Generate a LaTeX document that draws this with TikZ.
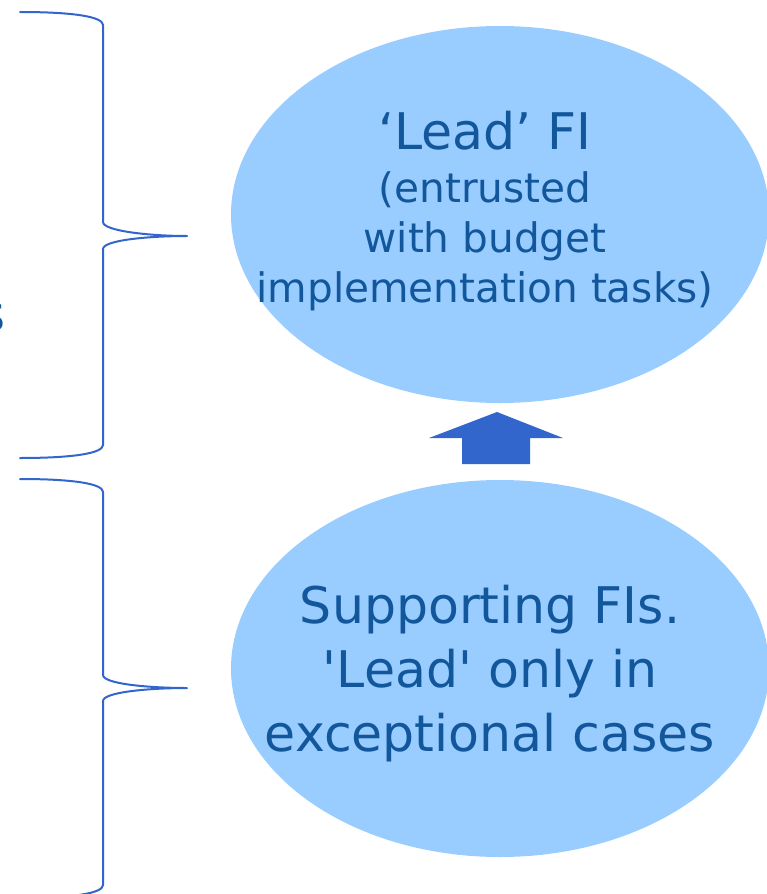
\documentclass[tikz,border=0pt]{standalone}
\usepackage{fontspec}
\setmainfont{DejaVu Sans}[Ligatures=TeXOff]
\usetikzlibrary{shapes.geometric}
\definecolor{bubble}{HTML}{99CCFF}
\definecolor{inktext}{HTML}{12579B}
\definecolor{inkline}{HTML}{3366CC}
\tikzset{
  bubble/.style={ellipse, fill=bubble, draw=none, inner sep=0pt,
    minimum width=538pt, minimum height=377pt},
  bubbletext/.style={text=inktext, align=center, inner sep=0pt},
  bracket/.style={draw=inkline, line width=2pt, line cap=round, line join=round},
  blockarrow/.style={fill=inkline, draw=none}
}
\begin{document}
\begin{tikzpicture}[x=1pt, y=-1pt]
\useasboundingbox (0,0) rectangle (767,894);
\clip (0,0) rectangle (767,894);

% the two ellipses
\node[bubble] (lead) at (500,214.5) {};
\node[bubble] (support) at (500,668.5) {};

% their texts
\node[bubbletext, font=\fontsize{40.6}{50}\selectfont] (leadtext) at (485,211)
  {{\fontsize{50.5}{50}\selectfont ‘Lead’ FI}\\[3pt]
   (entrusted\\
   with budget\\
   implementation tasks)};
\node[bubbletext, font=\fontsize{50.5}{64}\selectfont] (supporttext) at (490,674)
  {Supporting FIs.\\
   'Lead' only in\\
   exceptional cases};

% upward block arrow between the ellipses
\path[blockarrow] (497,412) -- (563,438) -- (530,438) -- (530,464)
  -- (462,464) -- (462,438) -- (429,438) -- cycle;

% right braces on the left side
\coordinate (tipA) at (187,236);
\coordinate (tipB) at (187,688);
\draw[bracket] (20,12) .. controls (75,12) and (103,17) .. (103,25)
  -- (103,222) .. controls (103,231) and (150,236) .. (tipA)
  .. controls (150,236) and (103,240) .. (103,249)
  -- (103,445) .. controls (103,453) and (75,458) .. (20,458);
\draw[bracket] (20,479) .. controls (75,479) and (103,484) .. (103,492)
  -- (103,675) .. controls (103,684) and (150,688) .. (tipB)
  .. controls (150,688) and (103,692) .. (103,701)
  -- (103,885) .. controls (103,893) and (75,898) .. (20,898);

% cut-off word ending at the left edge
\node[text=inktext, font=\fontsize{50}{60}\selectfont, anchor=base east,
  inner sep=0pt] (leftword) at (5.5,331) {s};
\end{tikzpicture}
\end{document}
